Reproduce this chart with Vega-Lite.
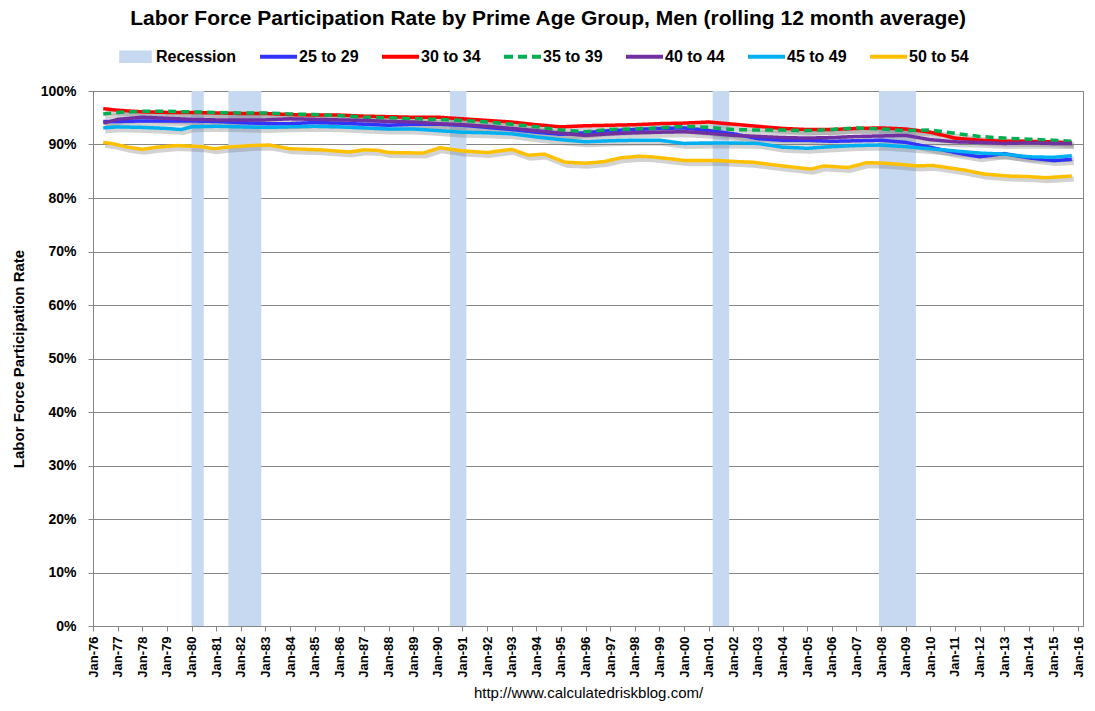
{
  "$schema": "https://vega.github.io/schema/vega-lite/v6.json",
  "width": 990,
  "height": 535,
  "padding": {"left": 11, "top": 8, "right": 10, "bottom": 5},
  "title": {
    "text": "Labor Force Participation Rate by Prime Age Group, Men (rolling 12 month average)",
    "font": "Liberation Sans",
    "fontSize": 21,
    "fontWeight": "bold",
    "color": "#000000",
    "anchor": "middle",
    "frame": "bounds",
    "offset": 9
  },
  "config": {
    "view": {"stroke": "#868686", "strokeWidth": 1},
    "axis": {
      "domainColor": "#868686",
      "tickColor": "#868686",
      "gridColor": "#868686",
      "labelColor": "#000000",
      "titleColor": "#000000",
      "labelFont": "Liberation Sans",
      "titleFont": "Liberation Sans"
    }
  },
  "datasets": {
    "lines": [
      {"d": "1976-06", "25 to 29": 94.3, "30 to 34": 96.7, "35 to 39": 95.7, "40 to 44": 94.0, "45 to 49": 93.1},
      {"d": "1977-01", "25 to 29": 94.3, "30 to 34": 96.4, "35 to 39": 96.0, "40 to 44": 94.7, "45 to 49": 93.3},
      {"d": "1978-01", "25 to 29": 94.4, "30 to 34": 96.1, "35 to 39": 96.2, "40 to 44": 95.1, "45 to 49": 93.2},
      {"d": "1979-01", "25 to 29": 94.4, "30 to 34": 96.0, "35 to 39": 96.2, "40 to 44": 94.9, "45 to 49": 93.0},
      {"d": "1979-08", "45 to 49": 92.8},
      {"d": "1980-01", "25 to 29": 94.4, "30 to 34": 96.0, "35 to 39": 96.1, "40 to 44": 94.7, "45 to 49": 93.3},
      {"d": "1981-01", "25 to 29": 94.3, "30 to 34": 95.9, "35 to 39": 96.0, "40 to 44": 94.6, "45 to 49": 93.4},
      {"d": "1982-01", "25 to 29": 94.1, "30 to 34": 95.8, "35 to 39": 95.9, "40 to 44": 94.6, "45 to 49": 93.3},
      {"d": "1983-01", "25 to 29": 93.9, "30 to 34": 95.8, "35 to 39": 95.9, "40 to 44": 94.6, "45 to 49": 93.2},
      {"d": "1984-01", "25 to 29": 93.9, "30 to 34": 95.6, "35 to 39": 95.7, "40 to 44": 94.8, "45 to 49": 93.3},
      {"d": "1985-01", "25 to 29": 94.1, "30 to 34": 95.5, "35 to 39": 95.6, "40 to 44": 94.7, "45 to 49": 93.4},
      {"d": "1986-01", "25 to 29": 94.0, "30 to 34": 95.5, "35 to 39": 95.4, "40 to 44": 94.6, "45 to 49": 93.3},
      {"d": "1987-01", "25 to 29": 93.8, "30 to 34": 95.3, "35 to 39": 95.1, "40 to 44": 94.5, "45 to 49": 93.1},
      {"d": "1988-01", "25 to 29": 93.6, "30 to 34": 95.2, "35 to 39": 95.0, "40 to 44": 94.3, "45 to 49": 92.9},
      {"d": "1989-01", "25 to 29": 93.8, "30 to 34": 95.1, "35 to 39": 94.8, "40 to 44": 94.2, "45 to 49": 92.9},
      {"d": "1990-01", "25 to 29": 93.8, "30 to 34": 95.1, "35 to 39": 94.7, "40 to 44": 93.9, "45 to 49": 92.6},
      {"d": "1991-01", "25 to 29": 93.6, "30 to 34": 94.8, "35 to 39": 94.5, "40 to 44": 93.7, "45 to 49": 92.3},
      {"d": "1992-01", "25 to 29": 93.2, "30 to 34": 94.5, "35 to 39": 94.2, "40 to 44": 93.4, "45 to 49": 92.2},
      {"d": "1993-01", "25 to 29": 92.8, "30 to 34": 94.2, "35 to 39": 93.8, "40 to 44": 93.0, "45 to 49": 92.0},
      {"d": "1994-01", "25 to 29": 92.3, "30 to 34": 93.7, "35 to 39": 93.3, "40 to 44": 92.6, "45 to 49": 91.4},
      {"d": "1995-01", "25 to 29": 91.9, "30 to 34": 93.3, "35 to 39": 92.7, "40 to 44": 92.1, "45 to 49": 90.9},
      {"d": "1996-01", "25 to 29": 92.2, "30 to 34": 93.5, "35 to 39": 92.4, "40 to 44": 91.7, "45 to 49": 90.5},
      {"d": "1997-01", "25 to 29": 92.6, "30 to 34": 93.6, "35 to 39": 92.8, "40 to 44": 92.0, "45 to 49": 90.7},
      {"d": "1998-01", "25 to 29": 92.8, "30 to 34": 93.7, "35 to 39": 92.9, "40 to 44": 92.2, "45 to 49": 90.8},
      {"d": "1999-01", "25 to 29": 93.0, "30 to 34": 93.9, "35 to 39": 93.1, "40 to 44": 92.3, "45 to 49": 90.8},
      {"d": "2000-01", "25 to 29": 93.1, "30 to 34": 94.0, "35 to 39": 93.4, "40 to 44": 92.4, "45 to 49": 90.2},
      {"d": "2001-01", "25 to 29": 92.6, "30 to 34": 94.2, "35 to 39": 93.2, "40 to 44": 92.1, "45 to 49": 90.3},
      {"d": "2002-01", "25 to 29": 92.0, "30 to 34": 93.8, "35 to 39": 92.8, "40 to 44": 91.7, "45 to 49": 90.3},
      {"d": "2003-01", "25 to 29": 91.1, "30 to 34": 93.4, "35 to 39": 92.7, "40 to 44": 91.5, "45 to 49": 90.2},
      {"d": "2004-01", "25 to 29": 90.8, "30 to 34": 93.0, "35 to 39": 92.7, "40 to 44": 91.3, "45 to 49": 89.5},
      {"d": "2005-01", "25 to 29": 90.8, "30 to 34": 92.8, "35 to 39": 92.6, "40 to 44": 91.2, "45 to 49": 89.3},
      {"d": "2006-01", "25 to 29": 90.6, "30 to 34": 92.8, "35 to 39": 92.8, "40 to 44": 91.3, "45 to 49": 89.6},
      {"d": "2007-01", "25 to 29": 90.7, "30 to 34": 93.0, "35 to 39": 93.1, "40 to 44": 91.5, "45 to 49": 89.8},
      {"d": "2008-01", "25 to 29": 90.8, "30 to 34": 93.1, "35 to 39": 92.9, "40 to 44": 91.6, "45 to 49": 89.9},
      {"d": "2009-01", "25 to 29": 90.4, "30 to 34": 92.9, "35 to 39": 92.6, "40 to 44": 91.7, "45 to 49": 89.6},
      {"d": "2010-01", "25 to 29": 89.5, "30 to 34": 92.3, "35 to 39": 92.7, "40 to 44": 90.9, "45 to 49": 89.2},
      {"d": "2011-01", "25 to 29": 88.5, "30 to 34": 91.2, "35 to 39": 92.1, "40 to 44": 90.5, "45 to 49": 88.8},
      {"d": "2012-01", "25 to 29": 87.7, "30 to 34": 90.8, "35 to 39": 91.5, "40 to 44": 90.4, "45 to 49": 88.4},
      {"d": "2013-01", "25 to 29": 88.3, "30 to 34": 90.6, "35 to 39": 91.2, "40 to 44": 90.2, "45 to 49": 88.2},
      {"d": "2014-01", "25 to 29": 87.5, "30 to 34": 90.6, "35 to 39": 91.0, "40 to 44": 90.3, "45 to 49": 87.7},
      {"d": "2015-01", "25 to 29": 87.0, "30 to 34": 90.5, "35 to 39": 90.8, "40 to 44": 90.2, "45 to 49": 87.6},
      {"d": "2015-10", "25 to 29": 87.2, "30 to 34": 90.3, "35 to 39": 90.6, "40 to 44": 90.2, "45 to 49": 87.9},
      {"d": "1976-06", "50 to 54": 90.4},
      {"d": "1976-10", "50 to 54": 90.2},
      {"d": "1977-06", "50 to 54": 89.5},
      {"d": "1978-01", "50 to 54": 89.1},
      {"d": "1978-08", "50 to 54": 89.5},
      {"d": "1979-06", "50 to 54": 89.8},
      {"d": "1980-06", "50 to 54": 89.6},
      {"d": "1980-12", "50 to 54": 89.2},
      {"d": "1981-06", "50 to 54": 89.5},
      {"d": "1982-06", "50 to 54": 89.8},
      {"d": "1983-03", "50 to 54": 89.9},
      {"d": "1984-01", "50 to 54": 89.2},
      {"d": "1985-04", "50 to 54": 89.0},
      {"d": "1986-06", "50 to 54": 88.6},
      {"d": "1987-01", "50 to 54": 89.0},
      {"d": "1987-08", "50 to 54": 88.9},
      {"d": "1988-01", "50 to 54": 88.5},
      {"d": "1989-06", "50 to 54": 88.4},
      {"d": "1990-02", "50 to 54": 89.4},
      {"d": "1991-01", "50 to 54": 88.8},
      {"d": "1992-01", "50 to 54": 88.5},
      {"d": "1993-01", "50 to 54": 89.1},
      {"d": "1993-09", "50 to 54": 88.0},
      {"d": "1994-05", "50 to 54": 88.2},
      {"d": "1995-03", "50 to 54": 86.7},
      {"d": "1996-01", "50 to 54": 86.5},
      {"d": "1996-10", "50 to 54": 86.8},
      {"d": "1997-06", "50 to 54": 87.5},
      {"d": "1998-03", "50 to 54": 87.8},
      {"d": "1998-09", "50 to 54": 87.7},
      {"d": "1999-07", "50 to 54": 87.3},
      {"d": "2000-01", "50 to 54": 87.0},
      {"d": "2001-06", "50 to 54": 87.0},
      {"d": "2002-03", "50 to 54": 86.8},
      {"d": "2002-10", "50 to 54": 86.7},
      {"d": "2004-01", "50 to 54": 86.0},
      {"d": "2005-03", "50 to 54": 85.4},
      {"d": "2005-09", "50 to 54": 86.0},
      {"d": "2006-09", "50 to 54": 85.7},
      {"d": "2007-06", "50 to 54": 86.6},
      {"d": "2008-03", "50 to 54": 86.5},
      {"d": "2009-07", "50 to 54": 86.0},
      {"d": "2010-02", "50 to 54": 86.1},
      {"d": "2011-06", "50 to 54": 85.2},
      {"d": "2012-03", "50 to 54": 84.5},
      {"d": "2013-03", "50 to 54": 84.1},
      {"d": "2014-01", "50 to 54": 84.0},
      {"d": "2014-09", "50 to 54": 83.8},
      {"d": "2015-10", "50 to 54": 84.1}
    ],
    "recessions": [
      {"start": "1980-01-01", "end": "1980-07-01", "series": "Recession"},
      {"start": "1981-07-01", "end": "1982-11-01", "series": "Recession"},
      {"start": "1990-07-01", "end": "1991-03-01", "series": "Recession"},
      {"start": "2001-03-01", "end": "2001-11-01", "series": "Recession"},
      {"start": "2007-12-01", "end": "2009-06-01", "series": "Recession"}
    ]
  },
  "layer": [
    {
      "data": {"name": "recessions"},
      "mark": {"type": "rect"},
      "encoding": {
        "x": {
          "field": "start",
          "type": "temporal",
          "scale": {"type": "utc", "domain": [{"year": 1976, "month": 1, "date": 1, "utc": true}, {"year": 2016, "month": 3, "date": 15, "utc": true}]},
          "axis": {
            "title": "http://www.calculatedriskblog.com/",
            "titleFontSize": 15,
            "titleFontWeight": "normal",
            "titlePadding": 8,
            "format": "%b-%y",
            "tickCount": {"interval": "year", "step": 1},
            "labelAngle": 270,
            "labelAlign": "right",
            "labelBaseline": "middle",
            "labelFontSize": 13,
            "labelFontWeight": "bold",
            "labelPadding": 5,
            "labelOverlap": false,
            "tickSize": 5,
            "grid": false
          }
        },
        "x2": {"field": "end"},
        "color": {"field": "series", "type": "nominal"}
      }
    },
    {
      "data": {"name": "lines"},
      "transform": [
        {"fold": ["25 to 29", "30 to 34", "35 to 39", "40 to 44", "45 to 49", "50 to 54"], "as": ["series", "value"]},
        {"filter": "isValid(datum.value)"}
      ],
      "mark": {"type": "line", "color": "#7f7f7f", "opacity": 0.35, "strokeWidth": 5, "xOffset": 2, "yOffset": 3},
      "encoding": {
        "x": {"field": "d", "type": "temporal"},
        "y": {"field": "value", "type": "quantitative"},
        "detail": {"field": "series"}
      }
    },
    {
      "data": {"name": "lines"},
      "transform": [
        {"fold": ["25 to 29", "30 to 34", "35 to 39", "40 to 44", "45 to 49", "50 to 54"], "as": ["series", "value"]},
        {"filter": "isValid(datum.value)"}
      ],
      "mark": {"type": "line", "strokeWidth": 3.5},
      "encoding": {
        "x": {"field": "d", "type": "temporal"},
        "y": {
          "field": "value",
          "type": "quantitative",
          "scale": {"domain": [0, 100], "nice": false},
          "axis": {
            "title": "Labor Force Participation Rate",
            "titleFontSize": 15,
            "titleFontWeight": "bold",
            "titlePadding": 14,
            "values": [0, 10, 20, 30, 40, 50, 60, 70, 80, 90, 100],
            "labelExpr": "datum.value + '%'",
            "labelFontSize": 14,
            "labelFontWeight": "bold",
            "labelPadding": 12,
            "tickSize": 5,
            "grid": true,
            "gridWidth": 1
          }
        },
        "color": {
          "field": "series",
          "type": "nominal",
          "scale": {
            "domain": ["Recession", "25 to 29", "30 to 34", "35 to 39", "40 to 44", "45 to 49", "50 to 54"],
            "range": ["#C6D9F1", "#3333FF", "#FF0000", "#00B050", "#7030A0", "#00B0F0", "#FFC000"]
          },
          "legend": {
            "title": null,
            "orient": "none",
            "legendX": 24,
            "legendY": -53,
            "direction": "horizontal",
            "symbolType": "square",
            "symbolSize": 1369,
            "symbolStrokeWidth": 0,
            "labelFont": "Liberation Sans",
            "labelFontSize": 16,
            "labelFontWeight": "bold",
            "labelColor": "#000000",
            "labelOffset": 2,
            "columnPadding": 23,
            "encode": {
              "symbols": {
                "update": {
                  "shape": {"signal": "datum.value === 'Recession' ? 'M-0.88,-0.34H0.88V0.34H-0.88Z' : (datum.value === '35 to 39' ? 'M-1,-0.11H-0.514V0.11H-1Z M-0.243,-0.11H0.243V0.11H-0.243Z M0.514,-0.11H1V0.11H0.514Z' : 'M-1,-0.11H1V0.11H-1Z')"},
                  "fill": {"signal": "scale('color', datum.value)"},
                  "stroke": {"value": "transparent"},
                  "strokeWidth": {"value": 0},
                  "opacity": {"value": 1}
                }
              }
            }
          }
        },
        "strokeDash": {
          "field": "series",
          "type": "nominal",
          "scale": {
            "domain": ["25 to 29", "30 to 34", "35 to 39", "40 to 44", "45 to 49", "50 to 54"],
            "range": [[1, 0], [1, 0], [8, 5], [1, 0], [1, 0], [1, 0]]
          },
          "legend": null
        }
      }
    }
  ]
}
